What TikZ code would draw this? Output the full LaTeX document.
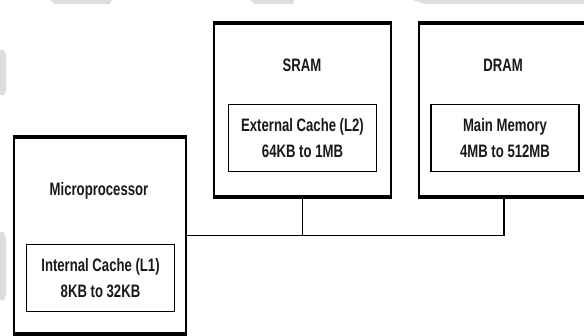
\documentclass[tikz,border=0pt]{standalone}
\usepackage{fontspec}
\setmainfont{Liberation Sans}[FakeStretch=0.73]
\definecolor{wm}{RGB}{221,221,221}
\definecolor{ink}{RGB}{25,25,25}
\begin{document}
\begin{tikzpicture}[x=1pt,y=-1pt,
  outerbox/.style={draw=black, line width=2.6pt, rectangle, inner sep=0pt, outer sep=0pt},
  hedge/.style={line width=3.8pt, shorten <=-1.3pt, shorten >=-1.3pt},
  innerbox/.style={draw=black, line width=1.5pt, rectangle, inner sep=0pt, outer sep=0pt,
    minimum width=148pt, minimum height=67pt, align=center, text=ink,
    font=\fontsize{18}{26}\selectfont\bfseries},
  boxlabel/.style={inner sep=0pt, text=ink, font=\fontsize{18}{20}\selectfont\bfseries},
  bus/.style={line width=1.3pt}]
\useasboundingbox (0,0) rectangle (584,335);
\clip (0,0) rectangle (584,335);
\fill[white] (0,0) rectangle (584,335);
% faint background watermark
\fill[wm] (50,0) -- (112,0) -- (110,4) -- (55,4) -- cycle;
\fill[wm] (250,0) -- (294,0) -- (293,4) -- (255,4) -- cycle;
\fill[wm] (413,0) -- (584,0) -- (584,4) -- (425,4) -- cycle;
\fill[wm] (0,50) -- (4,50) -- (6,55) -- (6,90) -- (4,95) -- (0,95) -- cycle;
\fill[wm] (0,232) -- (4,232) -- (6,238) -- (6,295) -- (4,300) -- (0,300) -- cycle;
% outer boxes
\node[outerbox, minimum width=172pt, minimum height=197pt] (micro) at (100,235.5) {};
\node[outerbox, minimum width=177pt, minimum height=174pt] (sram) at (302.5,110) {};
\node[outerbox, minimum width=170pt, minimum height=174pt] (dram) at (504,110) {};
\foreach \n in {micro,sram,dram}{
  \draw[hedge] (\n.north west) -- (\n.north east);
  \draw[hedge] (\n.south west) -- (\n.south east);
}
% labels
\node[boxlabel] (microlbl) at (99,191) {Microprocessor};
\node[boxlabel] (sramlbl) at (302,65) {SRAM};
\node[boxlabel] (dramlbl) at (503,65) {DRAM};
% inner boxes
\node[innerbox] (l1) at (100.5,278) {Internal Cache (L1)\\8KB to 32KB};
\node[innerbox] (l2) at (302.5,138) {External Cache (L2)\\64KB to 1MB};
\node[innerbox] (mm) at (505,138) {Main Memory\\4MB to 512MB};
% bus
\draw[bus] (micro.east) -- (micro.east -| dram.south) -- (dram.south);
\draw[bus] (sram.south) -- (sram.south |- micro.east);
\end{tikzpicture}
\end{document}
